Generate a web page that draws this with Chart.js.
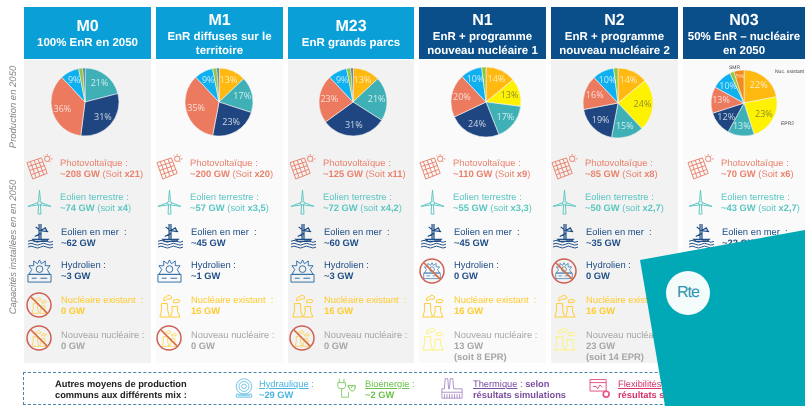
<!DOCTYPE html>
<html lang="fr">
<head>
<meta charset="utf-8">
<title>Scénarios de mix 2050</title>
<script src="https://cdn.jsdelivr.net/npm/chart.js@4"></script>
<style>
    html, body { margin: 0; padding: 0; background: #fff; }
    #page { position: relative; width: 805px; height: 406px; overflow: hidden; font-family: "Liberation Sans", Arial, sans-serif; filter: blur(0.45px); text-rendering: geometricPrecision; }
    #page div { position: absolute; white-space: nowrap; }
    .head { color: #fff; text-align: center; font-weight: bold; font-size: 11.5px; line-height: 14px; }
    .head b { display: block; font-size: 16px; line-height: 19px; }
    .row { font-size: 9.4px; line-height: 11px; }
    .row b { font-weight: bold; }
    .side { color: #858585; font-style: italic; font-size: 9.5px; transform: translate(-50%, -50%) rotate(-90deg); }
    .tiny { font-size: 5px; color: #444; }
    canvas { position: absolute; }
    svg.icon { position: absolute; fill: none; stroke-width: 1; overflow: visible; }
    .mix { font-size: 9.3px; line-height: 11px; }
    .mix u { font-weight: normal; }
</style>
</head>
<body>
<svg width="0" height="0" style="position:absolute">
    <symbol id="pv" viewBox="0 0 26 24" overflow="visible">
        <path d="M0 7 L15 2 L21 18 L6 24 Z M3.500 6 L9.500 22.500 M7.500 4.500 L13.500 21 M11.500 3.300 L17.500 19.500 M1.500 11 L16.500 6 M3 15 L18 10 M4.500 19.500 L19.500 14"/>
        <circle cx="21" cy="3" r="2.800"/>
        <path d="M21 -2 V-0.500 M26.500 3 H25 M17.500 -0.500 L18.500 0.500 M24.500 -0.500 L23.500 0.500 M24.500 6.500 L23.500 5.500"/>
    </symbol>
    <symbol id="wind" viewBox="0 0 26 24" overflow="visible">
        <path d="M12 10 L13 -1 L14 10 M11.500 12 L1 16 L12 14.500 M14.500 12 L25 16 L14 14.500 M12 14.500 L11.500 24 H14.500 L14 14.500"/>
        <circle cx="13" cy="12.500" r="2"/>
    </symbol>
    <symbol id="sea" viewBox="0 0 26 24" overflow="visible">
        <path d="M11.500 -1 V15 M13.500 -1 V15 M8 2 L13 6 L21 7 M13 6 L18 3 L20 7 M7 12 L13 9 M5 15 H21 L19 17 H7 Z" stroke-width="1.300"/>
        <path d="M0 17 Q3 15 6.500 17 T13 17 T19.500 17 T26 17 M0 20 Q3 18 6.500 20 T13 20 T19.500 20 T26 20 M0 23 Q3 21 6.500 23 T13 23 T19.500 23 T26 23"/>
    </symbol>
    <symbol id="hydro" viewBox="0 0 26 24" overflow="visible">
        <path d="M13 0 L15 4 L19 1 L19 6 L24 6 L21 10 L24 15 H2 L5 10 L2 6 L7 6 L7 1 L11 4 Z"/>
        <circle cx="13" cy="9.500" r="3.500"/>
        <path d="M1 15 H25 V23 H1 Z M5 19 H10 M14 19 H21"/>
    </symbol>
    <symbol id="nuc" viewBox="0 0 26 24" overflow="visible">
        <path d="M3 24 Q6 16 4.500 10 H11 Q10 16 13 24 Z M14 24 Q17 18 15.500 13 H21.500 Q20 18 24 24 Z"/>
        <path d="M7 7 Q6 3 10 3 Q11 0 14 2 Q16 2 15 5 Q12 6 11 5 Q9 7 7 7 Z M17 9 Q16 6 19 6 Q22 5 24 7 Q23 10 20 9 Z"/>
    </symbol>
    <symbol id="turbine" viewBox="0 0 26 24" overflow="visible">
        <circle cx="13" cy="10" r="10"/>
        <circle cx="13" cy="10" r="6.500"/>
        <circle cx="13" cy="10" r="3"/>
        <path d="M3 20 H23 V24 H3 Z M5 22 H21"/>
    </symbol>
    <symbol id="plug" viewBox="0 0 26 24" overflow="visible">
        <path d="M3 0 V5 M9 0 V5 M1 5 H11 V10 Q11 13 6 13 Q1 13 1 10 Z M6 13 V24 H15 V17"/>
        <path d="M14 9 H24 L23 14 Q20 18 17 14 Z M18 12 L20 10" stroke-width="1.300"/>
    </symbol>
    <symbol id="factory" viewBox="0 0 26 24" overflow="visible">
        <path d="M1 24 V13 H4 L5 1 H8 L9 13 H10 L11 1 H14 L15 13 H25 V24 Z M1 17 H25"/>
        <path d="M4 19 V24 M7 19 V24 M10 19 V24 M13 19 V24 M16 19 V24 M19 19 V24 M22 19 V24"/>
    </symbol>
    <symbol id="flex" viewBox="0 0 26 24" overflow="visible">
        <path d="M0 1 H21 V16 H0 Z M0 5 H21" stroke-width="1.300"/>
        <path d="M4 10 H8 L10 13 L13 8 L16 11" stroke-width="1.300"/>
        <circle cx="21" cy="20" r="3.800" stroke-width="2.200"/>
    </symbol>
</svg>
<div id="page"></div>
<script>
// ===== DATA =====
const scenarioNames = ['M0', 'M1', 'M23', 'N1', 'N2', 'N03'];
const scenarioTitles = [
    ['100% EnR en 2050'],
    ['EnR diffuses sur le', 'territoire'],
    ['EnR grands parcs'],
    ['EnR + programme', 'nouveau nucléaire 1'],
    ['EnR + programme', 'nouveau nucléaire 2'],
    ['50% EnR – nucléaire', 'en 2050']
];

// slices, clockwise from the top
const sliceNames = ['Nucléaire existant', 'EPR2', 'Eolien terrestre', 'Eolien en mer', 'Photovoltaïque', 'Hydraulique', 'Bioénergie', 'Hydrolien', 'SMR'];
const sliceColors = ['#ffb911', '#fff200', '#3fb1b6', '#1f4680', '#ec7a5f', '#0fb0f0', '#8dc63f', '#2f5fa8', '#f28a1c'];
const m0Shares = [0, 0, 21, 31, 36, 9, 2, 1, 0];
const m1Shares = [13, 0, 17, 23, 35, 9, 2, 1, 0];
const m23Shares = [13, 0, 21, 31, 23, 9, 2, 1, 0];
const n1Shares = [14, 13, 17, 24, 20, 10, 2, 0, 0];
const n2Shares = [14, 24, 15, 19, 16, 10, 2, 0, 0];
const n03Shares = [22, 23, 13, 12, 13, 10, 2, 0, 5];
const allShares = [m0Shares, m1Shares, m23Shares, n1Shares, n2Shares, n03Shares];

// installed capacity per scenario
const pvValues = ['~208 GW', '~200 GW', '~125 GW', '~110 GW', '~85 GW', '~70 GW'];
const pvFactors = ['x21', 'x20', 'x11', 'x9', 'x8', 'x6'];
const onshoreValues = ['~74 GW', '~57 GW', '~72 GW', '~55 GW', '~50 GW', '~43 GW'];
const onshoreFactors = ['x4', 'x3,5', 'x4,2', 'x3,3', 'x2,7', 'x2,7'];
const offshoreValues = ['~62 GW', '~45 GW', '~60 GW', '~45 GW', '~35 GW', '~22 GW'];
const tidalValues = ['~3 GW', '~1 GW', '~3 GW', '0 GW', '0 GW', null];
const nuclearValues = ['0 GW', '16 GW', '16 GW', '16 GW', '16 GW', null];
const newNuclearValues = ['0 GW', '0 GW', '0 GW', '13 GW', '23 GW', null];
const newNuclearNotes = [null, null, null, '(soit 8 EPR)', '(soit 14 EPR)', null];

// ===== LAYOUT =====
const page = document.getElementById('page');
const colLeft = [24, 156, 288, 419, 551, 683];
const colWidth = [127, 127, 126, 127, 127, 122];
const colText = [60, 190, 323, 453, 585, 721];
const headColors = ['#0b9fd8', '#0b9fd8', '#0b9fd8', '#0b4f8a', '#0b4f8a', '#0b4f8a'];
const bodyColors = ['#f2f2f2', '#fafafa', '#f2f2f2', '#fafafa', '#f2f2f2', '#fafafa'];
const pieX = [84.5, 219, 353, 486, 618, 744];
const pieY = [102, 102, 102, 102, 103, 103];
const pieR = [34, 34, 34, 35, 35, 33];

const PV = '#e9826c', ONSHORE = '#5cc6c2', OFFSHORE = '#1f4e86', TIDAL = '#2f6ea5', NUCLEAR = '#ffcb2e', GREY = '#a6a6a6';

function addDiv(cls, x, y, html, style) {
    const d = document.createElement('div');
    d.className = cls;
    d.style.left = x + 'px';
    d.style.top = y + 'px';
    d.innerHTML = html;
    if (style) Object.assign(d.style, style);
    page.appendChild(d);
    return d;
}

function addBox(x, y, w, h, color) {
    return addDiv('', x, y, '', { width: w + 'px', height: h + 'px', background: color });
}

function addIcon(name, cx, cy, color, size) {
    const s = size || 25;
    page.insertAdjacentHTML('beforeend',
        `<svg class="icon" style="left:${cx - s / 2}px;top:${cy - s / 2}px;color:${color};stroke:${color}" width="${s}" height="${s}"><use href="#${name}"/></svg>`);
}

// crossed out icon used when a technology is absent from the scenario
function addForbidden(name, cx, cy, color) {
    addIcon(name, cx, cy, color, 18);
    page.insertAdjacentHTML('beforeend',
        `<svg class="icon" style="left:${cx - 13}px;top:${cy - 13}px" width="26" height="26">
            <circle cx="13" cy="13" r="12" stroke="#cf5f52" stroke-width="1.500"/>
            <path d="M5 5 L21 21" stroke="#d9693f" stroke-width="1.700"/></svg>`);
}

// ===== COLUMNS =====
scenarioNames.forEach((name, i) => {
    addBox(colLeft[i], 7, colWidth[i], 52, headColors[i]);
    addDiv('head', colLeft[i], scenarioTitles[i].length > 1 ? 11 : 17, `<b>${name}</b>` + scenarioTitles[i].join('<br>'),
        { width: colWidth[i] + 'px' });
    addBox(colLeft[i], 60, colWidth[i], 303, bodyColors[i]);
});

addDiv('side', 13, 107, 'Production en 2050');
addDiv('side', 13, 247, 'Capacités installées en en 2050');

scenarioNames.forEach((name, i) => {
    const x = colText[i];
    const ix = x - 21;
    addIcon('pv', ix, 167, PV);
    addDiv('row', x, 157, `Photovoltaïque :<br><b>${pvValues[i]}</b> (Soit <b>${pvFactors[i]}</b>)`, { color: PV });
    addIcon('wind', ix, 202, ONSHORE);
    addDiv('row', x, 191, `Eolien terrestre :<br><b>${onshoreValues[i]}</b> (soit <b>${onshoreFactors[i]}</b>)`, { color: ONSHORE });
    addIcon('sea', ix + 1, 236, OFFSHORE);
    addDiv('row', x + 1, 226, `Eolien en mer &nbsp;:<br><b>${offshoreValues[i]}</b>`, { color: OFFSHORE });

    if (tidalValues[i] === null) return; // hidden by the logo panel
    if (tidalValues[i] === '0 GW') addForbidden('hydro', ix, 271, TIDAL);
    else addIcon('hydro', ix, 271, TIDAL);
    addDiv('row', x + 1, 259, `Hydrolien :<br><b>${tidalValues[i]}</b>`, { color: OFFSHORE });

    if (nuclearValues[i] === '0 GW') addForbidden('nuc', ix, 305, NUCLEAR);
    else addIcon('nuc', ix, 305, NUCLEAR);
    addDiv('row', x + 1, 294, `Nucléaire existant &nbsp;:<br><b>${nuclearValues[i]}</b>`, { color: NUCLEAR });

    if (newNuclearValues[i] === '0 GW') addForbidden('nuc', ix, 338, NUCLEAR);
    else addIcon('nuc', ix, 338, '#fff176');
    const note = newNuclearNotes[i] ? `<br><b>${newNuclearNotes[i]}</b>` : '';
    addDiv('row', x + 1, 329, `Nouveau nucléaire :<br><b>${newNuclearValues[i]}</b>${note}`, { color: GREY });
});

// ===== BOTTOM BOX =====
addDiv('', 23, 372, '', { width: '800px', height: '33px', border: '1px dashed #4f83a8', boxSizing: 'border-box' });
addDiv('mix', 55, 379, '<b>Autres moyens de production<br>communs aux différents mix :</b>', { color: '#222' });
addIcon('turbine', 244, 388, '#4bb4e0', 20);
addDiv('mix', 259, 379, '<u>Hydraulique</u> :<br><b>~29 GW</b>', { color: '#4bb4e0' });
addIcon('plug', 347, 388, '#6cc24a', 20);
addDiv('mix', 365, 379, '<u>Bioénergie</u> :<br><b>~2 GW</b>', { color: '#6cc24a' });
addIcon('factory', 452, 388, '#a184c4', 22);
addDiv('mix', 473, 379, '<u>Thermique</u> : <b>selon<br>résultats simulations</b>', { color: '#7b4fa0' });
addIcon('flex', 600, 388, '#e8558a', 20);
addDiv('mix', 618, 379, '<u>Flexibilités</u> : <b>selon<br>résultats simulations</b>', { color: '#d6336c' });

// ===== PIES =====
// draws the percentages inside the slices, the pies have no legend
const sliceLabels = {
    id: 'sliceLabels',
    afterDatasetsDraw(chart) {
        const ctx = chart.ctx;
        const values = chart.data.datasets[0].data;
        chart.getDatasetMeta(0).data.forEach((arc, k) => {
            if (values[k] < 5) return;
            const mid = (arc.startAngle + arc.endAngle) / 2;
            const r = arc.outerRadius * (values[k] < 8 ? 0.82 : 0.7);
            ctx.save();
            ctx.font = (values[k] < 8 ? '6px' : '9px') + ' "Open Sans", sans-serif';
            ctx.textAlign = 'center';
            ctx.textBaseline = 'middle';
            ctx.fillStyle = k === 1 ? '#8f8f2e' : 'rgba(255,255,255,0.75)';
            ctx.fillText(values[k] + '%', arc.x + Math.cos(mid) * r, arc.y + Math.sin(mid) * r);
            ctx.restore();
        });
    }
};

allShares.forEach((shares, i) => {
    const c = document.createElement('canvas');
    const size = pieR[i] * 2 + 2;
    c.width = size;
    c.height = size;
    c.style.left = (pieX[i] - size / 2) + 'px';
    c.style.top = (pieY[i] - size / 2) + 'px';
    page.appendChild(c);
    new Chart(c, {
        type: 'pie',
        data: {
            labels: sliceNames,
            datasets: [{
                data: shares,
                backgroundColor: sliceColors,
                borderColor: '#f4f4f4',
                borderWidth: 0.6
            }]
        },
        options: {
            responsive: false,
            animation: false,
            radius: pieR[i],
            plugins: { legend: { display: false }, tooltip: { enabled: false } }
        },
        plugins: [sliceLabels]
    });
});

addDiv('tiny', 729, 65, 'SMR');
addDiv('tiny', 775, 69, 'Nuc. existant');
addDiv('tiny', 781, 121, 'EPR2');

// ===== LOGO PANEL =====
addDiv('', 0, 0, '', {
    width: '805px', height: '406px', background: '#00a9b5',
    clipPath: 'polygon(640px 260px, 805px 230px, 805px 406px, 665px 406px)'
});
addDiv('', 666, 271, 'Rte', {
    width: '44px', height: '44px', lineHeight: '44px', borderRadius: '50%', background: '#f4fbfb',
    color: '#2b93b5', textAlign: 'center', fontSize: '16px', letterSpacing: '-1px'
});
</script>
</body>
</html>
